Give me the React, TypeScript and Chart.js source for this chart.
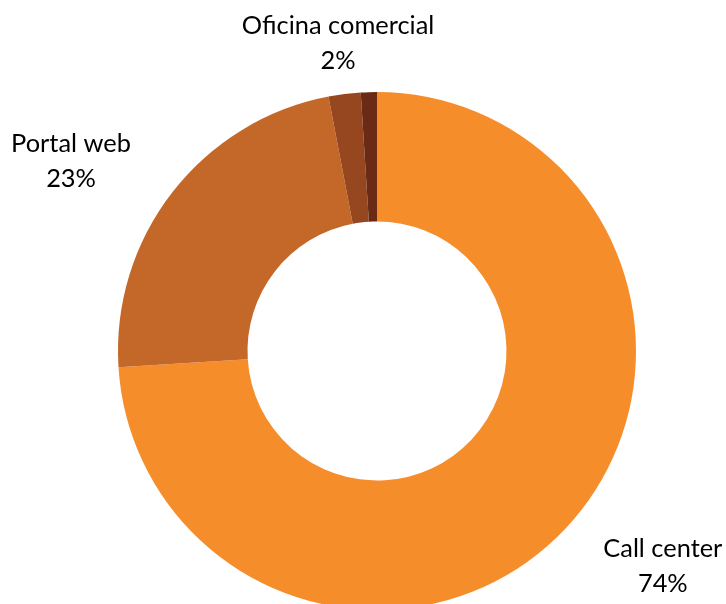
import React, { useEffect, useRef } from "react";
import { Chart, registerables } from "chart.js";

Chart.register(...registerables);

const categories = ["Call center", "Portal web", "Oficina comercial", "Otros"];
const values = [74, 23, 2, 1];
const colors = ["#F68D2B", "#C4682A", "#97471F", "#6B2A13"];
const showLabel = [true, true, true, false];
// per-label placement: angle shift (deg) from slice mid-angle, distance as fraction of outer radius
const labelAngleShift = [-6.3, -6, 0, 0];
const labelDistance = [1.38, 1.39, 1.2, 1.2];

const labelPlugin = {
  id: "outerLabels",
  afterDatasetsDraw(chart: any) {
    const ctx = chart.ctx;
    const meta = chart.getDatasetMeta(0);
    const data = chart.data.datasets[0].data as number[];
    const total = data.reduce((a, b) => a + b, 0);
    ctx.save();
    ctx.font = "25.4px Lato";
    ctx.fillStyle = "#000000";
    ctx.textAlign = "center";
    ctx.textBaseline = "alphabetic";
    meta.data.forEach((arc: any, i: number) => {
      if (!showLabel[i]) return;
      const p = arc.getProps(["x", "y", "startAngle", "endAngle", "outerRadius"], true);
      const mid = (p.startAngle + p.endAngle) / 2 + (labelAngleShift[i] * Math.PI) / 180;
      const r = p.outerRadius * labelDistance[i];
      const cx = p.x + Math.cos(mid) * r;
      const cy = p.y + Math.sin(mid) * r;
      const pct = Math.round((data[i] / total) * 100) + "%";
      ctx.fillText(chart.data.labels[i], cx, cy - 9);
      ctx.fillText(pct, cx, cy + 26);
    });
    ctx.restore();
  },
};

export default function App() {
  const ref = useRef<HTMLCanvasElement | null>(null);
  useEffect(() => {
    if (!ref.current) return;
    const chart = new Chart(ref.current, {
      type: "doughnut",
      data: {
        labels: categories,
        datasets: [
          {
            data: values,
            backgroundColor: colors,
            borderWidth: 0,
            hoverBorderWidth: 0,
            hoverOffset: 0,
            offset: 0,
          } as any,
        ],
      },
      options: {
        responsive: false,
        animation: false,
        cutout: "50%",
        layout: { padding: { left: 118, right: 90, top: 92, bottom: 108 } },
        plugins: {
          legend: { display: false },
          tooltip: { enabled: false },
        },
        events: [],
      },
      plugins: [labelPlugin],
    });
    return () => chart.destroy();
  }, []);
  return (
    <div
      style={{
        position: "absolute",
        left: 0,
        top: 0,
        width: 726,
        height: 604,
        overflow: "hidden",
        background: "#ffffff",
      }}
    >
      <canvas ref={ref} width={726} height={718} style={{ display: "block" }} />
    </div>
  );
}
